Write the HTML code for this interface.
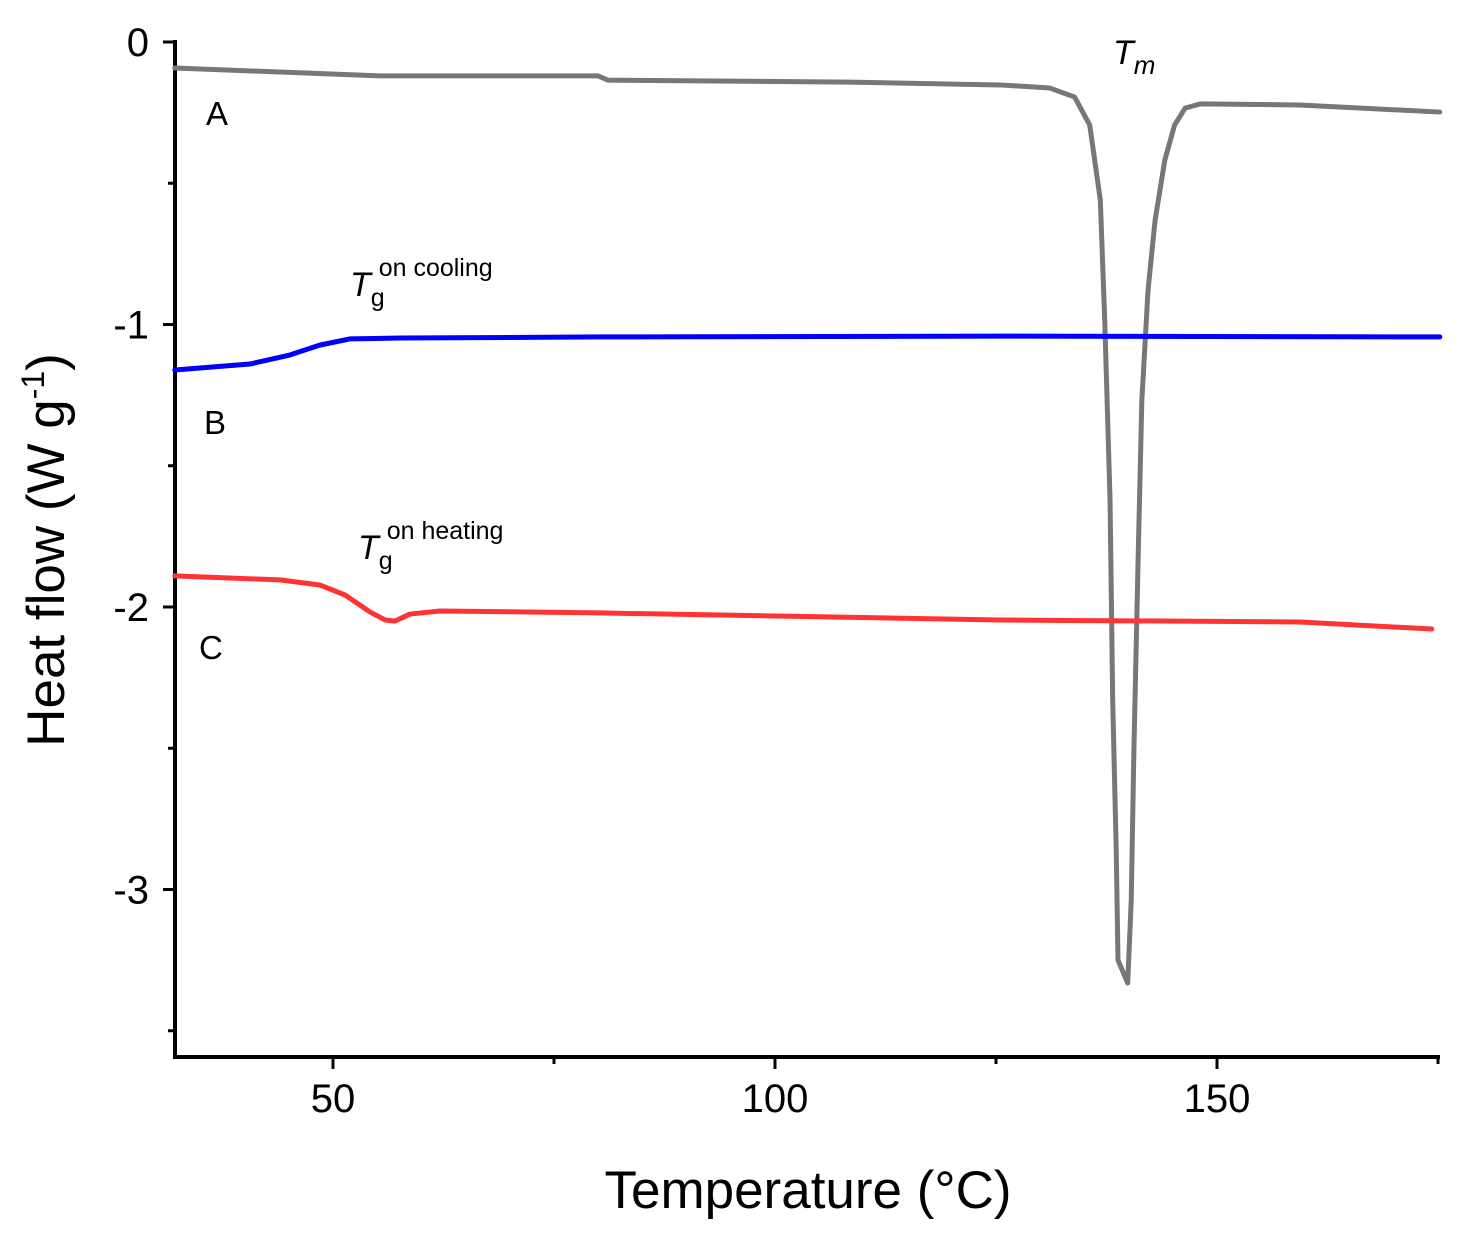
<!DOCTYPE html>
<html><head><meta charset="utf-8"><style>
body{margin:0;background:#fff}
svg text{font-family:"Liberation Sans",Arial,sans-serif}
</style></head><body>
<svg id="chart" width="1459" height="1232" xmlns="http://www.w3.org/2000/svg">
<g id="axes"></g>
<g id="series"></g>
<text x="808" y="1208" font-size="53" text-anchor="middle">Temperature (°C)</text>
<text transform="translate(64,550) rotate(-90)" font-size="53" text-anchor="middle">Heat flow (W g<tspan font-size="32" dy="-20">-1</tspan><tspan dy="20">)</tspan></text>
<text x="206" y="125" font-size="33">A</text>
<text x="204" y="434" font-size="33">B</text>
<text x="199" y="659" font-size="33">C</text>
<text x="1113" y="64" font-size="34" font-style="italic">T<tspan font-size="26" dy="10">m</tspan></text>
<text x="350" y="296" font-size="34" font-style="italic">T<tspan font-style="normal" font-size="25" dy="10">g</tspan><tspan font-style="normal" font-size="25" dx="-6" dy="-30">on cooling</tspan></text>
<text x="358" y="559" font-size="34" font-style="italic">T<tspan font-style="normal" font-size="25" dy="10">g</tspan><tspan font-style="normal" font-size="25" dx="-6" dy="-30">on heating</tspan></text>
</svg>
<script>
const xTicks=[50,100,150];
const xMinor=[75,125,175];
const yTicks=[0,-1,-2,-3];
const yMinor=[-0.5,-1.5,-2.5,-3.5];
const aT=[32.1,55.3,80.0,81.1,108.5,125.5,131.1,133.9,135.6,136.8,137.3,137.9,138.2,138.6,138.8,139.9,140.3,140.6,141.1,141.5,142.2,143.0,144.1,145.2,146.4,148.1,159.4,175.2];
const aY=[-0.092,-0.120,-0.120,-0.135,-0.142,-0.152,-0.163,-0.195,-0.294,-0.559,-0.984,-1.621,-2.329,-2.860,-3.250,-3.331,-3.037,-2.506,-1.798,-1.267,-0.878,-0.630,-0.418,-0.294,-0.234,-0.219,-0.223,-0.248];
const bT=[32.1,40.6,45.1,48.5,51.9,57.6,80.2,125.5,175.2];
const bY=[-1.161,-1.140,-1.108,-1.073,-1.051,-1.048,-1.044,-1.041,-1.044];
const cT=[32.1,44.0,48.5,51.4,54.2,55.9,57.0,58.7,62.1,80.2,125.5,159.4,174.3];
const cY=[-1.890,-1.904,-1.922,-1.958,-2.018,-2.046,-2.050,-2.025,-2.014,-2.021,-2.046,-2.053,-2.078];
const X0=175,X1=1440,Y0=42,Y1=1057;
const xs=t=>333+(t-50)*8.84;
const ys=v=>42-v*282.5;
const NS='http://www.w3.org/2000/svg';
const axes=document.getElementById('axes'),ser=document.getElementById('series');
function mk(tag,at,parent){const e=document.createElementNS(NS,tag);for(const k in at)e.setAttribute(k,at[k]);parent.appendChild(e);return e;}
const ax=mk('path',{d:`M${X0},${Y0-2}V${Y1}H${X1}`,fill:'none',stroke:'#000','stroke-width':4},axes);


xTicks.forEach(t=>{const l=mk('line',{x1:xs(t),x2:xs(t),y1:Y1,y2:Y1+12,stroke:'#000','stroke-width':3},axes);


const tx=mk('text',{x:xs(t),y:Y1+55,'font-size':40,'text-anchor':'middle'},axes);tx.textContent=t;

});
xMinor.forEach(t=>{const l=mk('line',{x1:xs(t),x2:xs(t),y1:Y1,y2:Y1+7,stroke:'#000','stroke-width':3},axes);

});
yTicks.forEach(v=>{const l=mk('line',{x1:X0-12,x2:X0,y1:ys(v),y2:ys(v),stroke:'#000','stroke-width':3},axes);


const tx=mk('text',{x:X0-26,y:ys(v)+14,'font-size':40,'text-anchor':'end'},axes);tx.textContent=v;

});
yMinor.forEach(v=>{const l=mk('line',{x1:X0-7,x2:X0,y1:ys(v),y2:ys(v),stroke:'#000','stroke-width':3},axes);

});
function line(T,Y,col,name){const p=mk('polyline',{points:T.map((t,i)=>xs(t)+','+ys(Y[i])).join(' '),fill:'none',stroke:col,'stroke-width':5,'stroke-linejoin':'round','stroke-linecap':'round'},ser);

}
line(aT,aY,'#777777','curve-a');
line(bT,bY,'#0000ff','curve-b');
line(cT,cY,'#ff3333','curve-c');
</script>
</body></html>
